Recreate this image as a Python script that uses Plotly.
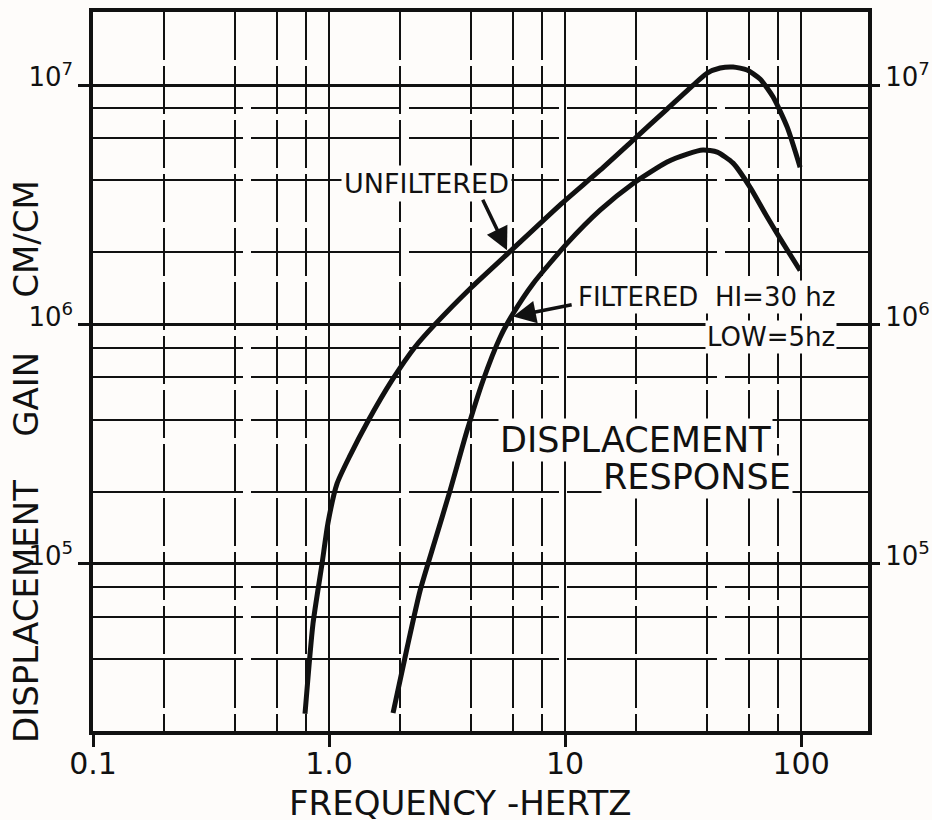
import math
import plotly.graph_objects as go

# Displacement gain (cm/cm) versus frequency (Hz)
freq_unfiltered = [0.791, 0.855, 0.934, 0.990, 1.081, 1.227, 1.463, 1.849, 2.314, 2.81,
                   3.957, 5.73, 9.53, 14.07, 19.42, 27.05, 34.9, 40.0, 45.4, 51.5,
                   59.0, 67.0, 76.1, 87.3, 99.0]
gain_unfiltered = [2.36e4, 5.61e4, 1.00e5, 1.484e5, 2.161e5, 2.83e5, 3.95e5, 5.85e5, 8.05e5, 1.00e6,
                   1.41e6, 1.98e6, 3.16e6, 4.41e6, 5.89e6, 7.94e6, 1.00e7, 1.122e7, 1.178e7, 1.19e7,
                   1.156e7, 1.06e7, 8.91e6, 6.67e6, 4.54e6]

freq_filtered = [1.867, 2.141, 2.430, 2.812, 3.256, 3.844, 4.492, 5.303, 6.022, 7.316,
                 10.2, 14.07, 19.42, 27.05, 32.9, 38.4, 44.1, 51.5, 60.8, 71.8,
                 83.9, 99.0]
gain_filtered = [2.38e4, 4.45e4, 7.71e4, 1.25e5, 2.02e5, 3.60e5, 5.83e5, 8.82e5, 1.11e6, 1.48e6,
                 2.18e6, 3.00e6, 3.88e6, 4.77e6, 5.15e6, 5.35e6, 5.25e6, 4.72e6, 3.74e6, 2.81e6,
                 2.18e6, 1.68e6]

x_major = [0.1, 1, 10, 100]
x_major_text = ["0.1", "1.0", "10", "100"]
x_minor = [0.2, 0.4, 0.6, 0.8, 2, 4, 6, 8, 20, 40, 60, 80]

y_major = [1e5, 1e6, 1e7]
y_major_text = ["10<sup>5</sup>", "10<sup>6</sup>", "10<sup>7</sup>"]
y_minor = [4e4, 6e4, 8e4, 2e5, 4e5, 6e5, 8e5, 2e6, 4e6, 6e6, 8e6]

x_range = [0.1, 192]
y_range = [2e4, 2.02e7]

FONT = "DejaVu Sans"
INK = "#111111"
PAPER = "#fefcfa"

lg = math.log10

fig = go.Figure()
curve_line = dict(color=INK, width=5, shape="spline", smoothing=0.6)
fig.add_trace(go.Scatter(x=freq_unfiltered, y=gain_unfiltered, mode="lines",
                         line=curve_line, showlegend=False, hoverinfo="skip"))
fig.add_trace(go.Scatter(x=freq_filtered, y=gain_filtered, mode="lines",
                         line=curve_line, showlegend=False, hoverinfo="skip"))
# carrier trace for the right-hand gain scale
fig.add_trace(go.Scatter(x=freq_filtered, y=gain_filtered, yaxis="y2", mode="lines",
                         line=dict(width=0), opacity=0, showlegend=False, hoverinfo="skip"))

x_tick_font = dict(family=FONT, size=30, color=INK)
y_tick_font = dict(family=FONT, size=26, color=INK)

fig.update_layout(
    width=932, height=820,
    margin=dict(l=93, r=64, t=12, b=89),
    paper_bgcolor=PAPER, plot_bgcolor=PAPER,
    xaxis=dict(
        type="log", range=[lg(x_range[0]), lg(x_range[1])], automargin=False,
        tickmode="array", tickvals=x_major, ticktext=x_major_text,
        ticks="outside", ticklen=12, tickwidth=2.5, tickcolor=INK,
        tickfont=x_tick_font, ticklabelstandoff=-9,
        showgrid=True, gridcolor=INK, gridwidth=2,
        minor=dict(tickmode="array", tickvals=x_minor, showgrid=True,
                   gridcolor=INK, gridwidth=1.6, griddash="48px,6px", ticks=""),
        showline=True, linecolor=INK, linewidth=3.5, mirror=True,
        zeroline=False,
    ),
    yaxis=dict(
        type="log", range=[lg(y_range[0]), lg(y_range[1])], automargin=False,
        tickmode="array", tickvals=y_major, ticktext=y_major_text,
        ticks="outside", ticklen=11, tickwidth=2.5, tickcolor=INK,
        tickfont=y_tick_font, ticklabelshift=-8, ticklabelstandoff=0,
        showgrid=True, gridcolor=INK, gridwidth=2.5,
        minor=dict(tickmode="array", tickvals=y_minor, showgrid=True,
                   gridcolor=INK, gridwidth=2, griddash="150px,8px", ticks=""),
        showline=True, linecolor=INK, linewidth=3.5, mirror=True,
        zeroline=False,
    ),
    yaxis2=dict(
        type="log", range=[lg(y_range[0]), lg(y_range[1])], automargin=False,
        overlaying="y", side="right",
        tickmode="array", tickvals=y_major, ticktext=y_major_text,
        ticks="outside", ticklen=11, tickwidth=2.5, tickcolor=INK,
        tickfont=y_tick_font, ticklabelshift=-8, ticklabelstandoff=0,
        showgrid=False, showline=False, zeroline=False,
    ),
)

label_font = dict(family=FONT, size=26, color=INK)
big_font = dict(family=FONT, size=35, color=INK)

annotations = [
    # axis titles
    dict(text="FREQUENCY -HERTZ", xref="paper", yref="paper", x=0.4735, y=-0.1,
         xanchor="center", yanchor="middle", showarrow=False,
         font=dict(family=FONT, size=34, color=INK)),
    dict(text="DISPLACEMENT    GAIN     CM/CM", xref="paper", yref="paper",
         x=-0.0865, y=0.3755, xanchor="center", yanchor="middle", textangle=-90,
         showarrow=False, font=dict(family=FONT, size=34, color=INK)),
    # curve labels
    dict(text="UNFILTERED", x=lg(2.60), y=lg(3.89e6), xanchor="center", yanchor="middle",
         showarrow=False, font=dict(family=FONT, size=27, color=INK), bgcolor=PAPER, borderpad=2),
    dict(text="FILTERED  HI=30 hz", x=2.153, y=6.113, xanchor="right", yanchor="middle",
         showarrow=False, font=label_font, bgcolor=PAPER, borderpad=1),
    dict(text="LOW=5hz", x=2.153, y=5.946, xanchor="right", yanchor="middle",
         showarrow=False, font=label_font, bgcolor=PAPER, borderpad=1),
    dict(text="DISPLACEMENT", x=1.297, y=5.519, xanchor="center", yanchor="middle",
         showarrow=False, font=big_font, bgcolor=PAPER, borderpad=1),
    dict(text="RESPONSE", x=1.557, y=5.364, xanchor="center", yanchor="middle",
         showarrow=False, font=big_font, bgcolor=PAPER, borderpad=1),
    # pointer arrows
    dict(text="", x=0.754, y=6.310, ax=-25, ay=-52, showarrow=True,
         arrowhead=2, arrowsize=1.3, arrowwidth=3.5, arrowcolor=INK),
    dict(text="", x=0.780, y=6.033, ax=60, ay=-12, showarrow=True,
         arrowhead=2, arrowsize=1.3, arrowwidth=3.5, arrowcolor=INK),
]
fig.update_layout(annotations=annotations)

fig.write_html("out.html")
